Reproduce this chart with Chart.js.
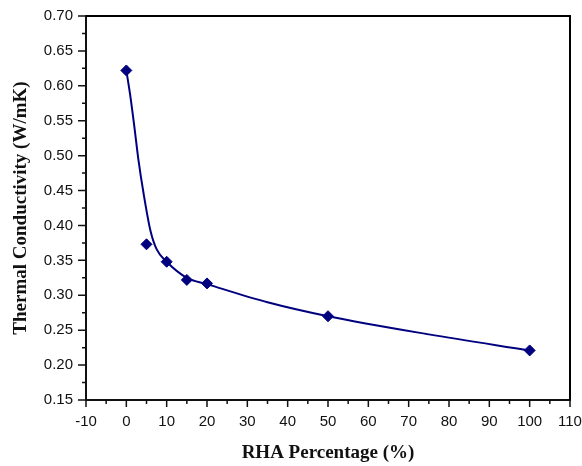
<!DOCTYPE html>
<html>
<head>
<meta charset="utf-8">
<script src="https://cdn.jsdelivr.net/npm/chart.js@4"></script>
<style>
  html, body { margin: 0; padding: 0; background: #fff; }
  #wrap { width: 582px; height: 466px; }
</style>
</head>
<body>
<div id="wrap"><canvas id="tcChart"></canvas></div>
<script>
// measured samples
const rhaPct = [0, 5, 10, 15, 20, 50, 100];
const conductivity = [0.622, 0.373, 0.348, 0.322, 0.317, 0.270, 0.221];

// fitted trend curve
const fitPct = [0, 1, 2, 3, 4.3, 6, 7.5, 10, 15, 20, 35, 50, 75, 100];
const fitValues = [0.622, 0.585, 0.541, 0.494, 0.445, 0.392, 0.366, 0.348, 0.325, 0.316, 0.290, 0.270, 0.244, 0.221];

const xRange = [-10, 110];
const yRange = [0.15, 0.70];

const navy = '#00007f';

// draws major/minor ticks outside the axes plus the top/right frame
const frameTicks = {
    id: 'frameTicks',
    afterDraw(chart) {
        const ctx = chart.ctx;
        const area = chart.chartArea;
        const xs = chart.scales.x;
        const ys = chart.scales.y;
        ctx.save();
        ctx.strokeStyle = '#111';
        ctx.lineWidth = 1.5;
        ctx.beginPath();

        const xt = xs.ticks.map(t => t.value);
        xt.forEach((v, i) => {
            const px = xs.getPixelForValue(v);
            ctx.moveTo(px, area.bottom);
            ctx.lineTo(px, area.bottom + 7);
            if (i < xt.length - 1) {
                const mx = xs.getPixelForValue((v + xt[i + 1]) / 2);
                ctx.moveTo(mx, area.bottom);
                ctx.lineTo(mx, area.bottom + 4);
            }
        });

        const yt = ys.ticks.map(t => t.value);
        yt.forEach((v, i) => {
            const py = ys.getPixelForValue(v);
            ctx.moveTo(area.left, py);
            ctx.lineTo(area.left - 8, py);
            if (i < yt.length - 1) {
                const my = ys.getPixelForValue((v + yt[i + 1]) / 2);
                ctx.moveTo(area.left, my);
                ctx.lineTo(area.left - 4, my);
            }
        });
        ctx.stroke();

        ctx.lineWidth = 2;
        ctx.strokeStyle = '#000';
        ctx.beginPath();
        ctx.moveTo(area.left, area.top);
        ctx.lineTo(area.right, area.top);
        ctx.lineTo(area.right, area.bottom);
        ctx.stroke();
        ctx.restore();
    }
};

const tickFont = { family: 'Liberation Sans, Arial, sans-serif', size: 15 };
const titleFont = { family: 'Liberation Serif, Times New Roman, serif', size: 19, weight: 'bold' };

new Chart(document.getElementById('tcChart').getContext('2d'), {
    type: 'scatter',
    data: {
        datasets: [{
            type: 'line',
            label: 'Fit',
            data: fitPct.map((x, i) => ({ x: x, y: fitValues[i] })),
            borderColor: navy,
            borderWidth: 2,
            pointRadius: 0,
            fill: false,
            cubicInterpolationMode: 'monotone',
            order: 2
        }, {
            label: 'Thermal Conductivity',
            data: rhaPct.map((x, i) => ({ x: x, y: conductivity[i] })),
            pointStyle: 'rectRot',
            pointRadius: 5.5,
            pointBackgroundColor: navy,
            pointBorderColor: navy,
            pointBorderWidth: 1,
            order: 1
        }]
    },
    options: {
        responsive: true,
        maintainAspectRatio: false,
        animation: false,
        layout: { padding: { top: 16, right: 12, left: 0, bottom: 0 } },
        plugins: {
            legend: { display: false },
            tooltip: { enabled: false }
        },
        scales: {
            x: {
                type: 'linear',
                min: xRange[0],
                max: xRange[1],
                afterFit: scale => {
                    scale.height = 66;
                    scale.paddingLeft = 0;
                    scale.paddingRight = 0;
                },
                ticks: {
                    stepSize: 10,
                    padding: 13,
                    color: '#111',
                    font: tickFont,
                    maxRotation: 0,
                    autoSkip: false
                },
                grid: { drawOnChartArea: false, drawTicks: false },
                border: { display: true, color: '#111', width: 2 },
                title: {
                    display: true,
                    text: 'RHA Percentage (%)',
                    color: '#111',
                    font: titleFont,
                    padding: { top: 0, bottom: 2 }
                }
            },
            y: {
                type: 'linear',
                min: yRange[0],
                max: yRange[1],
                afterFit: scale => {
                    scale.width = 86;
                    scale.paddingTop = 0;
                    scale.paddingBottom = 0;
                },
                ticks: {
                    stepSize: 0.05,
                    padding: 13,
                    color: '#111',
                    font: tickFont,
                    callback: v => v.toFixed(2)
                },
                grid: { drawOnChartArea: false, drawTicks: false },
                border: { display: true, color: '#111', width: 2 },
                title: {
                    display: true,
                    text: 'Thermal Conductivity (W/mK)',
                    color: '#111',
                    font: titleFont,
                    padding: { top: 10, bottom: 0 }
                }
            }
        }
    },
    plugins: [frameTicks]
});
</script>
</body>
</html>
